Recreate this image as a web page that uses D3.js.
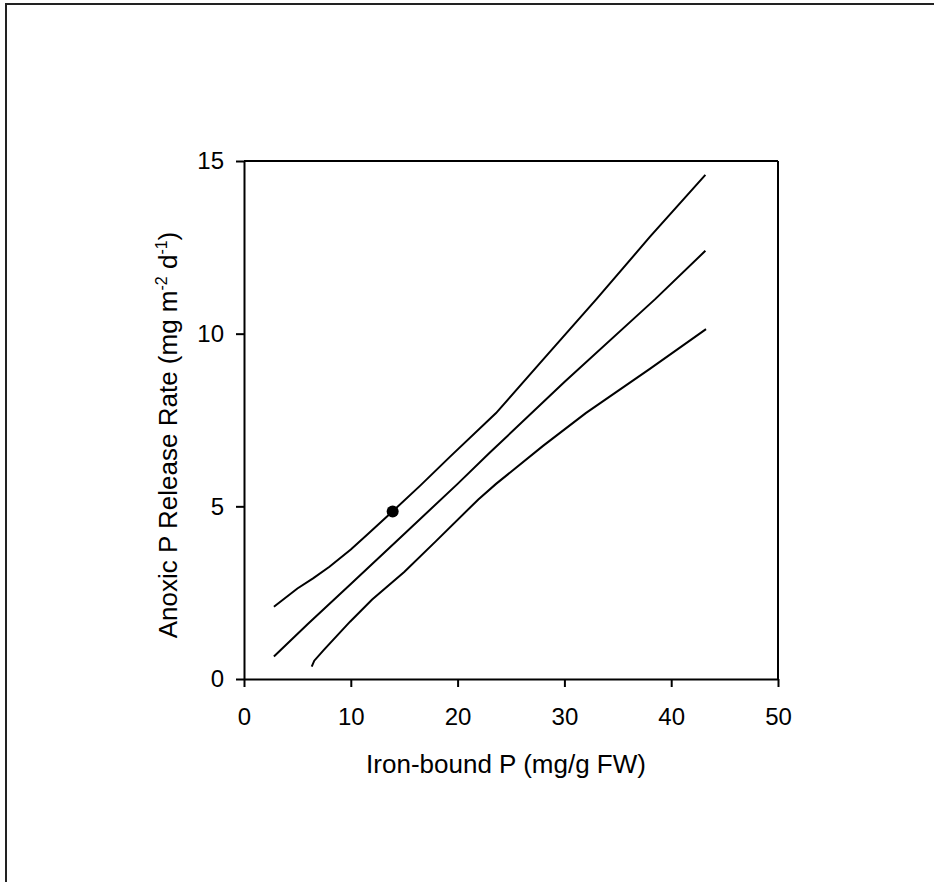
<!DOCTYPE html>
<html><head><meta charset="utf-8">
<script src="https://cdn.jsdelivr.net/npm/d3@7"></script>
<style>body{margin:0;background:#fff}svg{display:block}text{font-family:"Liberation Sans",Arial,sans-serif;fill:#000}</style>
</head><body>
<svg id="c" width="934" height="882"></svg>
<script>
const xTicks = [0, 10, 20, 30, 40, 50];
const yTicks = [0, 5, 10, 15];
const upperX = [2.8, 5, 6.5, 8, 10, 11.5, 13.9, 16.5, 19.3, 23.6, 28, 33, 38, 43.2];
const upperY = [2.09, 2.62, 2.92, 3.25, 3.75, 4.17, 4.85, 5.6, 6.44, 7.7, 9.25, 11.0, 12.8, 14.6];
const fitX = [2.8, 6, 10, 15, 20, 23, 30, 38.5, 43.2];
const fitY = [0.65, 1.6, 2.75, 4.2, 5.65, 6.55, 8.6, 11.0, 12.4];
const lowerX = [6.34, 6.58, 7.5, 9.93, 12, 15, 18, 21.94, 23.6, 28, 32, 38, 43.26];
const lowerY = [0.36, 0.53, 0.85, 1.66, 2.3, 3.1, 4.0, 5.2, 5.65, 6.75, 7.7, 8.98, 10.13];
const pointX = [13.92];
const pointY = [4.85];

const svg = d3.select("#c");
svg.append("rect").attr("x", 6).attr("y", 4).attr("width", 1000).attr("height", 1000)
  .attr("fill", "none").attr("stroke", "#222").attr("stroke-width", 2);

const L = 244, R = 778, T = 161, B = 679;
const x = d3.scaleLinear().domain([0, 50]).range([L, R]);
const y = d3.scaleLinear().domain([0, 15]).range([B, T]);

const xa = svg.append("g").attr("transform", `translate(0,${B})`)
  .call(d3.axisBottom(x).tickValues(xTicks).tickSize(8).tickPadding(21).tickSizeOuter(0));
const ya = svg.append("g").attr("transform", `translate(${L},0)`)
  .call(d3.axisLeft(y).tickValues(yTicks).tickSize(8).tickPadding(12).tickSizeOuter(0));
[xa, ya].forEach(a => {
  a.selectAll("path,line").attr("stroke", "#000").attr("stroke-width", 2);
  a.selectAll("text").attr("font-size", 24).attr("font-family", '"Liberation Sans",Arial,sans-serif').attr("fill", "#000");
});
svg.append("line").attr("x1", L).attr("x2", R).attr("y1", T).attr("y2", T).attr("stroke", "#000").attr("stroke-width", 2);
svg.append("line").attr("x1", R).attr("x2", R).attr("y1", T).attr("y2", B).attr("stroke", "#000").attr("stroke-width", 2);

const line = d3.line().x(d => x(d[0])).y(d => y(d[1]));
[[upperX, upperY], [fitX, fitY], [lowerX, lowerY]].forEach(([xs, ys]) => {
  svg.append("path").datum(xs.map((v, i) => [v, ys[i]]))
    .attr("d", line).attr("fill", "none").attr("stroke", "#000").attr("stroke-width", 2);
});
svg.selectAll("circle.pt").data(pointX.map((v, i) => [v, pointY[i]])).enter()
  .append("circle").attr("class", "pt").attr("cx", d => x(d[0])).attr("cy", d => y(d[1])).attr("r", 6).attr("fill", "#000");

svg.append("text").attr("x", 506).attr("y", 773).attr("text-anchor", "middle").attr("font-size", 26)
  .text("Iron-bound P (mg/g FW)");
const yt = svg.append("text").attr("transform", "translate(177,435) rotate(-90)").attr("text-anchor", "middle").attr("font-size", 26);
yt.append("tspan").text("Anoxic P Release Rate (mg m");
yt.append("tspan").attr("font-size", 16).attr("dy", -10).text("-2");
yt.append("tspan").attr("dy", 10).text(" d");
yt.append("tspan").attr("font-size", 16).attr("dy", -10).text("-1");
yt.append("tspan").attr("dy", 10).text(")");
</script>
</body></html>
